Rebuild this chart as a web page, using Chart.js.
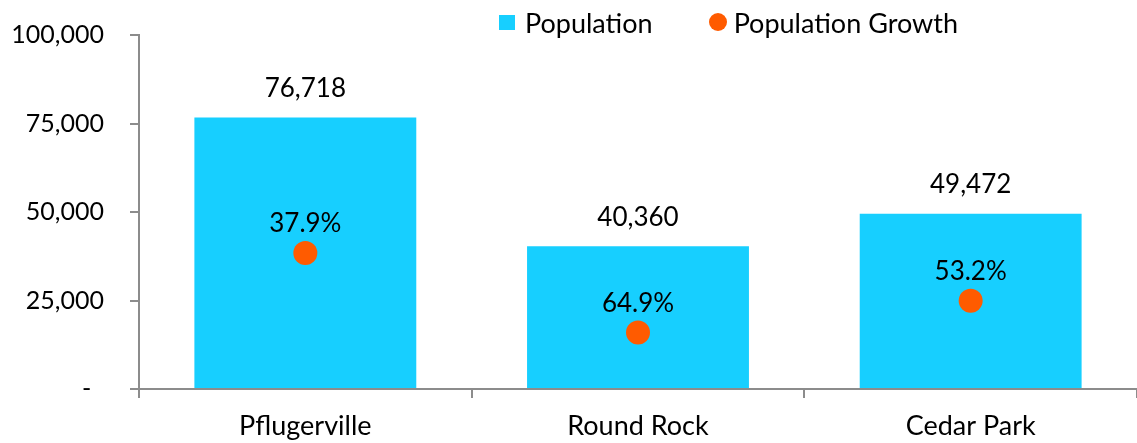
<!DOCTYPE html>
<html>
<head>
<meta charset="utf-8">
<script src="https://cdn.jsdelivr.net/npm/chart.js@4"></script>
<style>
    html, body { margin: 0; padding: 0; background: #fff; }
    #wrap { position: relative; width: 1137px; height: 443px; }
    #legend { position: absolute; top: 6px; left: 499px; height: 32px; display: flex; align-items: center;
              font-family: Lato, sans-serif; font-size: 27px; color: #000; }
    #legend .item { display: flex; align-items: center; }
    #legend .box { width: 16px; height: 15px; background: #17CFFF; margin-right: 10px; }
    #legend .dot { width: 18px; height: 18px; border-radius: 50%; background: #FF5B00; margin-right: 7px; }
</style>
</head>
<body>
<div id="wrap">
    <canvas id="chart" width="1137" height="443"></canvas>
    <div id="legend">
        <div class="item"><span class="box"></span><span>Population</span></div>
        <div class="item" style="margin-left:56px"><span class="dot"></span><span>Population Growth</span></div>
    </div>
</div>
<script>
const categories = ['Pflugerville', 'Round Rock', 'Cedar Park'];
const population = [76718, 40360, 49472];
const growthPct = [37.9, 64.9, 53.2];
// where the orange markers sit on the population axis
const growthMarker = [38400, 15950, 24900];
const yTicks = [0, 25000, 50000, 75000, 100000];

const barColor = '#17CFFF';
const dotColor = '#FF5B00';
const axisColor = '#8c8c8c';
const fontFamily = 'Lato, sans-serif';

// подписи над столбцами и над точками
const labelPlugin = {
    id: 'valueLabels',
    afterDatasetsDraw(chart) {
        const ctx = chart.ctx;
        ctx.save();
        ctx.font = `26px ${fontFamily}`;
        ctx.fillStyle = '#000';
        ctx.textAlign = 'center';
        ctx.textBaseline = 'middle';
        chart.getDatasetMeta(1).data.forEach((bar, i) => {
            ctx.fillText(population[i].toLocaleString('en-US'), bar.x, bar.y - 29);
        });
        chart.getDatasetMeta(0).data.forEach((pt, i) => {
            ctx.fillText(growthPct[i].toFixed(1) + '%', pt.x, pt.y - 29);
        });
        ctx.restore();
    }
};

new Chart(document.getElementById('chart'), {
    data: {
        labels: categories,
        datasets: [{
            type: 'line',
            label: 'Population Growth',
            data: growthMarker,
            showLine: false,
            pointStyle: 'circle',
            pointRadius: 12,
            pointHoverRadius: 12,
            pointBackgroundColor: dotColor,
            pointBorderWidth: 0,
            order: 0
        }, {
            type: 'bar',
            label: 'Population',
            data: population,
            backgroundColor: barColor,
            barPercentage: 0.667,
            categoryPercentage: 1,
            order: 1
        }]
    },
    plugins: [labelPlugin],
    options: {
        responsive: false,
        animation: false,
        layout: { autoPadding: false, padding: { top: 35, right: 0, left: 0, bottom: 0 } },
        plugins: {
            legend: { display: false },
            tooltip: { enabled: false }
        },
        scales: {
            x: {
                offset: true,
                grid: { offset: true, drawOnChartArea: false, drawTicks: true, tickLength: 9, color: axisColor, lineWidth: 2 },
                border: { color: axisColor, width: 2 },
                ticks: { color: '#000', font: { family: fontFamily, size: 27 }, padding: 12 },
                afterFit: (scale) => {
                    scale.height = 54;
                    scale.paddingLeft = 0;
                    scale.paddingRight = 0;
                }
            },
            y: {
                min: 0,
                max: 100000,
                afterBuildTicks: (scale) => { scale.ticks = yTicks.map(v => ({ value: v })); },
                grid: { drawOnChartArea: false, drawTicks: true, tickLength: 9, color: axisColor, lineWidth: 2 },
                border: { color: axisColor, width: 2 },
                ticks: {
                    color: '#000',
                    font: { family: fontFamily, size: 25 },
                    padding: 26,
                    callback: (v) => v === 0 ? '-  ' : v.toLocaleString('en-US')
                },
                afterFit: (scale) => {
                    scale.width = 139;
                    scale.paddingTop = 0;
                    scale.paddingBottom = 0;
                }
            }
        }
    }
});
</script>
</body>
</html>
